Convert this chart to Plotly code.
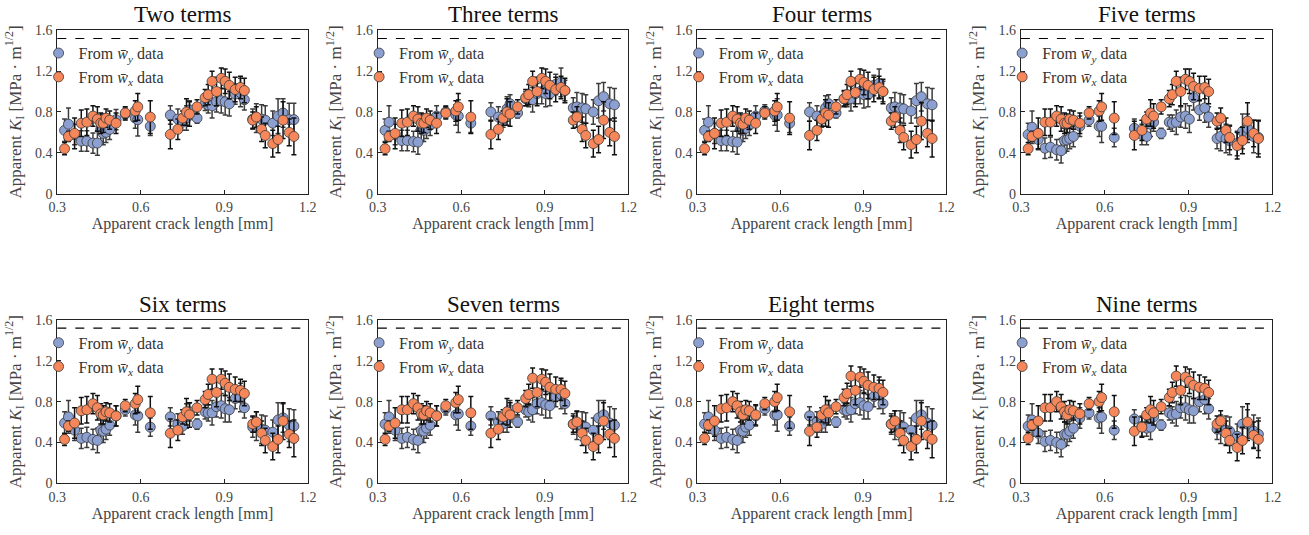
import plotly.graph_objects as go

# ---------------- data ----------------
crack_len = [0.326, 0.340, 0.362, 0.386, 0.406, 0.428, 0.444, 0.456, 0.465, 0.475,
             0.488, 0.511, 0.544, 0.580, 0.589, 0.634, 0.706, 0.733, 0.750, 0.764,
             0.775, 0.802, 0.831, 0.842, 0.856, 0.872, 0.889, 0.903, 0.918, 0.939,
             0.958, 0.972, 1.002, 1.015, 1.034, 1.047, 1.074, 1.093, 1.111, 1.133,
             1.150]

err_wy = [0.11, 0.16, 0.10, 0.10, 0.10, 0.10, 0.12, 0.12, 0.11, 0.10,
          0.10, 0.10, 0.06, 0.10, 0.16, 0.09, 0.09, 0.10, 0.08, 0.12,
          0.09, 0.05, 0.07, 0.08, 0.12, 0.10, 0.12, 0.13, 0.12, 0.10,
          0.14, 0.10, 0.10, 0.14, 0.14, 0.14, 0.12, 0.17, 0.14, 0.16, 0.16]
err_wx = [0.06, 0.05, 0.15, 0.13, 0.13, 0.10, 0.12, 0.10, 0.09, 0.09,
          0.09, 0.10, 0.06, 0.10, 0.13, 0.16, 0.14, 0.10, 0.07, 0.13,
          0.12, 0.07, 0.08, 0.10, 0.10, 0.14, 0.10, 0.12, 0.13, 0.12,
          0.11, 0.12, 0.08, 0.10, 0.12, 0.12, 0.13, 0.13, 0.18, 0.13, 0.18]

wy_two = [0.62, 0.68, 0.58, 0.515, 0.515, 0.495, 0.495, 0.63, 0.59, 0.60,
          0.63, 0.725, 0.78, 0.74, 0.725, 0.66, 0.77, 0.73, 0.70, 0.74,
          0.82, 0.74, 0.885, 0.87, 0.86, 0.90, 0.91, 0.90, 0.88, 0.975,
          0.99, 0.92, 0.73, 0.74, 0.73, 0.72, 0.69, 0.76, 0.79, 0.725, 0.725]
wx_two = [0.44, 0.56, 0.59, 0.69, 0.70, 0.76, 0.73, 0.69, 0.69, 0.74,
          0.72, 0.69, 0.79, 0.81, 0.85, 0.75, 0.58, 0.63, 0.74, 0.80,
          0.78, 0.85, 0.94, 0.97, 1.10, 1.00, 1.13, 1.10, 1.06, 1.02,
          1.04, 1.01, 0.72, 0.75, 0.63, 0.57, 0.49, 0.53, 0.72, 0.60, 0.56]

wy_three = [0.62, 0.70, 0.58, 0.52, 0.52, 0.51, 0.505, 0.63, 0.62, 0.64,
            0.67, 0.76, 0.80, 0.77, 0.76, 0.69, 0.80, 0.75, 0.73, 0.83,
            0.88, 0.79, 0.93, 0.93, 0.92, 0.98, 1.00, 0.98, 0.98, 1.07,
            1.09, 1.01, 0.84, 0.85, 0.84, 0.83, 0.80, 0.91, 0.95, 0.88, 0.87]
wx_three = [0.44, 0.56, 0.59, 0.69, 0.70, 0.76, 0.73, 0.69, 0.69, 0.74,
            0.72, 0.69, 0.79, 0.81, 0.85, 0.75, 0.58, 0.63, 0.74, 0.80,
            0.78, 0.85, 0.94, 0.97, 1.10, 1.00, 1.13, 1.10, 1.06, 1.02,
            1.04, 1.01, 0.72, 0.75, 0.63, 0.57, 0.49, 0.53, 0.72, 0.60, 0.56]

wy_four = [0.62, 0.70, 0.59, 0.52, 0.52, 0.51, 0.505, 0.63, 0.62, 0.64,
           0.67, 0.76, 0.81, 0.77, 0.77, 0.69, 0.80, 0.76, 0.73, 0.84,
           0.88, 0.79, 0.93, 0.93, 0.93, 0.98, 1.00, 0.97, 0.97, 1.06,
           1.08, 1.00, 0.84, 0.85, 0.84, 0.83, 0.81, 0.91, 0.95, 0.88, 0.87]
wx_four = [0.44, 0.56, 0.59, 0.69, 0.70, 0.76, 0.73, 0.69, 0.68, 0.74,
           0.72, 0.69, 0.79, 0.81, 0.85, 0.74, 0.57, 0.62, 0.73, 0.79,
           0.77, 0.85, 0.93, 0.97, 1.10, 0.99, 1.12, 1.09, 1.06, 1.02,
           1.04, 1.00, 0.71, 0.75, 0.62, 0.55, 0.48, 0.53, 0.71, 0.59, 0.54]

wy_five = [0.58, 0.65, 0.53, 0.445, 0.455, 0.43, 0.42, 0.52, 0.525, 0.54,
           0.56, 0.66, 0.72, 0.66, 0.66, 0.55, 0.64, 0.58, 0.56, 0.68,
           0.70, 0.59, 0.70, 0.69, 0.70, 0.75, 0.76, 0.73, 0.94, 0.82,
           0.84, 0.75, 0.54, 0.56, 0.54, 0.52, 0.49, 0.61, 0.64, 0.56, 0.55]
wx_five = [0.44, 0.56, 0.59, 0.70, 0.70, 0.76, 0.73, 0.69, 0.69, 0.73,
           0.72, 0.69, 0.79, 0.81, 0.85, 0.74, 0.57, 0.62, 0.73, 0.79,
           0.76, 0.85, 0.93, 0.97, 1.10, 1.00, 1.12, 1.10, 1.05, 1.03,
           1.04, 1.00, 0.71, 0.74, 0.62, 0.55, 0.47, 0.52, 0.71, 0.59, 0.54]

wy_six = [0.59, 0.65, 0.52, 0.44, 0.45, 0.43, 0.42, 0.52, 0.51, 0.53,
          0.57, 0.66, 0.72, 0.67, 0.66, 0.55, 0.65, 0.58, 0.56, 0.66,
          0.70, 0.58, 0.70, 0.69, 0.69, 0.75, 0.76, 0.73, 0.72, 0.83,
          0.84, 0.74, 0.55, 0.56, 0.53, 0.52, 0.50, 0.62, 0.64, 0.57, 0.56]
wx_six = [0.43, 0.56, 0.59, 0.71, 0.72, 0.78, 0.74, 0.68, 0.67, 0.70,
          0.69, 0.66, 0.76, 0.78, 0.82, 0.69, 0.49, 0.52, 0.65, 0.70,
          0.67, 0.74, 0.82, 0.87, 1.02, 0.89, 1.02, 0.98, 0.94, 0.92,
          0.91, 0.88, 0.58, 0.60, 0.49, 0.42, 0.36, 0.43, 0.61, 0.48, 0.44]

wy_seven = [0.58, 0.65, 0.52, 0.44, 0.45, 0.43, 0.42, 0.52, 0.51, 0.54,
            0.57, 0.66, 0.73, 0.67, 0.68, 0.56, 0.66, 0.60, 0.58, 0.62,
            0.72, 0.60, 0.72, 0.70, 0.72, 0.78, 0.79, 0.77, 0.76, 0.85,
            0.87, 0.78, 0.58, 0.57, 0.56, 0.55, 0.52, 0.64, 0.67, 0.59, 0.57]
wx_seven = [0.43, 0.56, 0.59, 0.72, 0.72, 0.78, 0.74, 0.68, 0.67, 0.71,
            0.69, 0.66, 0.76, 0.79, 0.82, 0.69, 0.49, 0.53, 0.65, 0.70,
            0.67, 0.74, 0.83, 0.87, 1.03, 0.89, 1.02, 0.99, 0.94, 0.92,
            0.92, 0.88, 0.58, 0.60, 0.49, 0.42, 0.36, 0.43, 0.61, 0.48, 0.44]

wy_eight = [0.58, 0.65, 0.52, 0.44, 0.45, 0.43, 0.42, 0.52, 0.51, 0.55,
            0.57, 0.66, 0.73, 0.67, 0.67, 0.56, 0.66, 0.60, 0.58, 0.62,
            0.72, 0.60, 0.72, 0.71, 0.72, 0.78, 0.79, 0.76, 0.75, 0.85,
            0.87, 0.78, 0.58, 0.57, 0.57, 0.55, 0.52, 0.64, 0.67, 0.59, 0.57]
wx_eight = [0.44, 0.57, 0.61, 0.73, 0.74, 0.80, 0.76, 0.70, 0.67, 0.72,
            0.71, 0.67, 0.78, 0.80, 0.84, 0.70, 0.51, 0.55, 0.67, 0.72,
            0.69, 0.75, 0.84, 0.88, 1.05, 0.91, 1.04, 1.00, 0.96, 0.94,
            0.93, 0.89, 0.58, 0.61, 0.49, 0.42, 0.36, 0.43, 0.61, 0.47, 0.43]

wy_nine = [0.56, 0.62, 0.49, 0.41, 0.42, 0.40, 0.38, 0.48, 0.48, 0.51,
           0.54, 0.64, 0.69, 0.64, 0.65, 0.52, 0.63, 0.56, 0.54, 0.55,
           0.65, 0.57, 0.69, 0.67, 0.68, 0.74, 0.74, 0.72, 0.71, 0.80,
           0.82, 0.73, 0.53, 0.53, 0.52, 0.51, 0.46, 0.58, 0.58, 0.51, 0.48]
wx_nine = [0.44, 0.57, 0.61, 0.74, 0.74, 0.80, 0.75, 0.70, 0.67, 0.72,
           0.71, 0.68, 0.78, 0.80, 0.84, 0.70, 0.51, 0.55, 0.67, 0.72,
           0.69, 0.75, 0.84, 0.89, 1.05, 0.91, 1.04, 1.00, 0.96, 0.94,
           0.93, 0.89, 0.58, 0.61, 0.49, 0.42, 0.35, 0.42, 0.60, 0.47, 0.43]

titles = ["Two terms", "Three terms", "Four terms", "Five terms",
          "Six terms", "Seven terms", "Eight terms", "Nine terms"]
wy_all = [wy_two, wy_three, wy_four, wy_five, wy_six, wy_seven, wy_eight, wy_nine]
wx_all = [wx_two, wx_three, wx_four, wx_five, wx_six, wx_seven, wx_eight, wx_nine]
ref_K = 1.52

x_ticks = [0.3, 0.6, 0.9, 1.2]
x_ticklabels = ["0.3", "0.6", "0.9", "1.2"]
y_ticks = [0, 0.4, 0.8, 1.2, 1.6]
y_ticklabels = ["0", "0.4", "0.8", "1.2", "1.6"]

# ---------------- layout / style ----------------
W, H = 1309, 535
FONT = "Liberation Serif, Times New Roman, serif"
BLUE = "#8c9fd1"
ORANGE = "#f5875a"
EDGE = "#3a3a3a"

col_px = [(49, 303), (374, 628), (698, 950), (1026, 1281)]
row_px = [(24, 192), (322, 490)]

fig = go.Figure()
layout_extra = {}

for i in range(8):
    r, c = divmod(i, 4)
    n = i + 1
    xa = "x" if n == 1 else f"x{n}"
    ya = "y" if n == 1 else f"y{n}"
    lg = "legend" if n == 1 else f"legend{n}"
    x0, x1 = col_px[c]
    yt, yb = row_px[r]
    xdom = [x0 / W, x1 / W]
    ydom = [(H - yb) / H, (H - yt) / H]

    fig.add_trace(go.Scatter(
        x=crack_len, y=wy_all[i], mode="markers", xaxis=xa, yaxis=ya,
        name="From <i>w\u0304</i><sub><i>y</i></sub> data", legend=lg,
        marker=dict(size=10, color=BLUE, line=dict(color=EDGE, width=0.8)),
        error_y=dict(type="data", array=err_wy, visible=True, color="#3c3c3c",
                     thickness=1.5, width=2.5),
    ))
    fig.add_trace(go.Scatter(
        x=crack_len, y=wx_all[i], mode="markers", xaxis=xa, yaxis=ya,
        name="From <i>w\u0304</i><sub><i>x</i></sub> data", legend=lg,
        marker=dict(size=10, color=ORANGE, line=dict(color=EDGE, width=0.8)),
        error_y=dict(type="data", array=err_wx, visible=True, color="#111111",
                     thickness=1.5, width=2.5),
    ))

    axis_common = dict(showline=True, linecolor="#222222", linewidth=1, mirror=True,
                       ticks="inside", ticklen=4, tickcolor="#222222",
                       showgrid=False, zeroline=False,
                       tickfont=dict(family=FONT, size=14, color="#444444"))
    xkey = "xaxis" if n == 1 else f"xaxis{n}"
    ykey = "yaxis" if n == 1 else f"yaxis{n}"
    layout_extra[xkey] = dict(domain=xdom, range=[0.3, 1.2], anchor=ya,
                              tickvals=x_ticks, ticktext=x_ticklabels,
                              ticklabelstandoff=1,
                              title=dict(text="Apparent crack length [mm]", standoff=0,
                                         font=dict(family=FONT, size=16, color="#444444")),
                              **axis_common)
    layout_extra[ykey] = dict(domain=ydom, range=[0, 1.6], anchor=xa,
                              tickvals=y_ticks, ticktext=y_ticklabels,
                              ticklabelstandoff=1,
                              title=dict(text="Apparent <i>K</i><sub>I</sub> [MPa · m<sup>1/2</sup>]",
                                         standoff=9,
                                         font=dict(family=FONT, size=17, color="#444444")),
                              **axis_common)
    layout_extra[lg] = dict(x=xdom[0] - 19 / W, y=ydom[1] - 6 / H,
                            xanchor="left", yanchor="top",
                            bgcolor="rgba(0,0,0,0)", borderwidth=0,
                            font=dict(family=FONT, size=16, color="#333333"),
                            tracegroupgap=2, itemwidth=30)

    fig.add_shape(type="line", xref=f"{xa} domain", yref=ya,
                  x0=0, x1=1, y0=ref_K, y1=ref_K,
                  line=dict(color="black", width=1.2, dash="dash"))

    fig.add_annotation(text=titles[i], xref="paper", yref="paper",
                       x=(xdom[0] + xdom[1]) / 2, y=ydom[1] + 1 / H,
                       xanchor="center", yanchor="bottom", showarrow=False,
                       font=dict(family=FONT, size=23, color="#111111"))

fig.update_layout(
    width=W, height=H, autosize=False,
    margin=dict(l=0, r=0, t=0, b=0),
    plot_bgcolor="white", paper_bgcolor="white",
    showlegend=True,
    **layout_extra,
)

fig.write_html("out.html")
